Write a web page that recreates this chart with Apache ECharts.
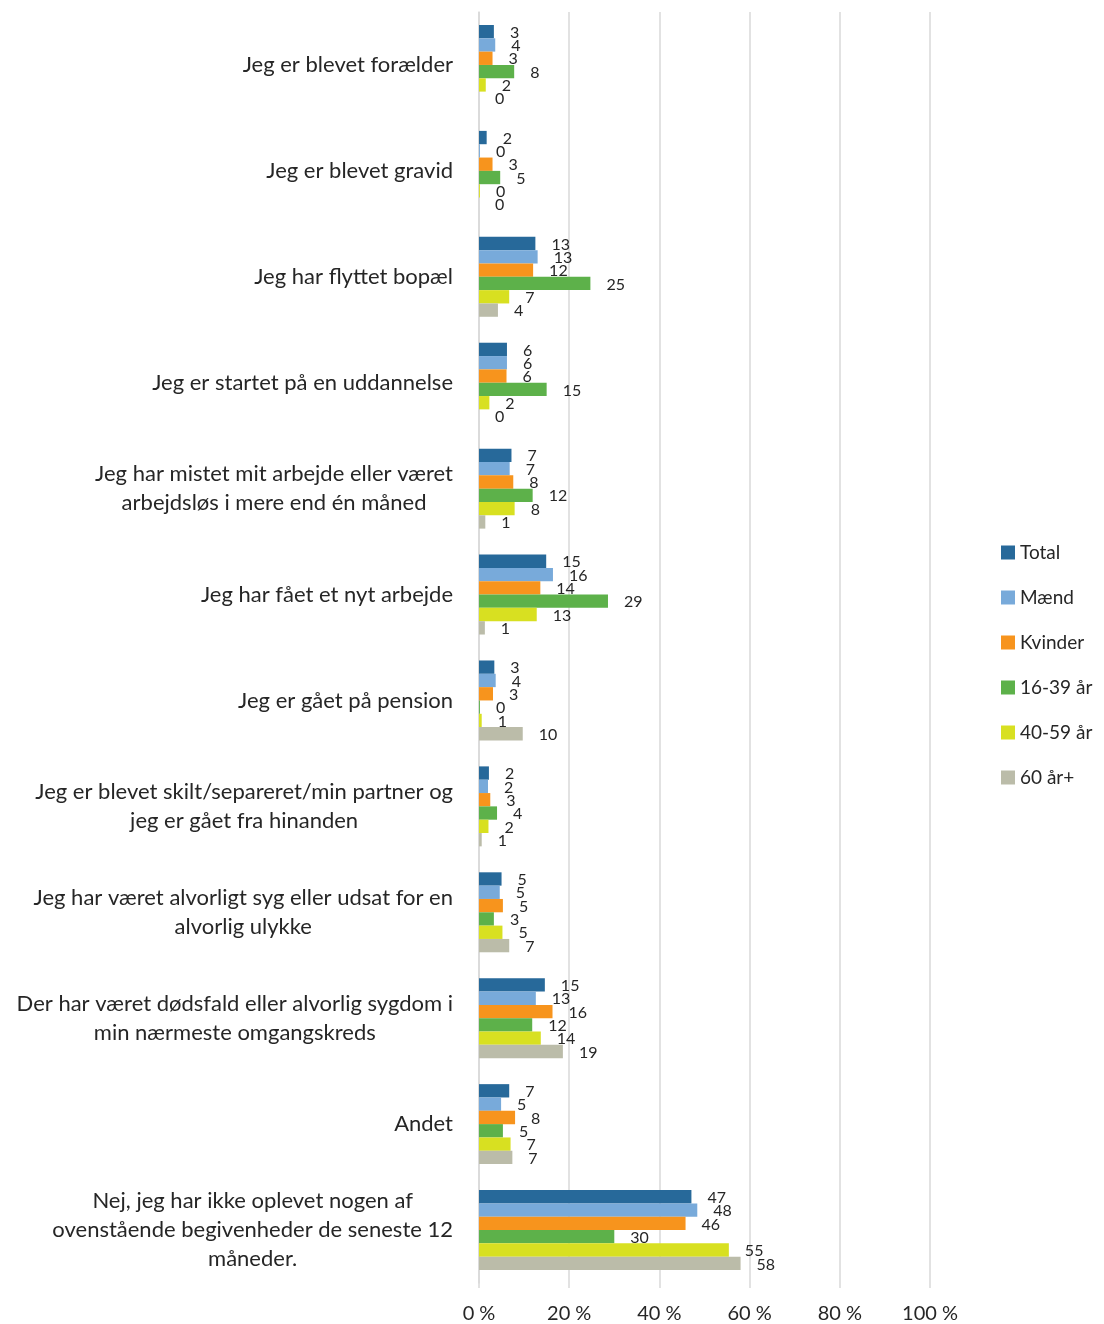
<!DOCTYPE html>
<html>
<head>
<meta charset="utf-8">
<script src="https://cdn.jsdelivr.net/npm/echarts@6/dist/echarts.min.js"></script>
<style>
html,body{margin:0;padding:0;background:#fff;}
#chart{width:1104px;height:1324px;}
</style>
</head>
<body>
<div id="chart"></div>
<script>
const categories = [
  "Jeg er blevet forælder",
  "Jeg er blevet gravid",
  "Jeg har flyttet bopæl",
  "Jeg er startet på en uddannelse",
  "Jeg har mistet mit arbejde eller været\narbejdsløs i mere end én måned",
  "Jeg har fået et nyt arbejde",
  "Jeg er gået på pension",
  "Jeg er blevet skilt/separeret/min partner og\njeg er gået fra hinanden",
  "Jeg har været alvorligt syg eller udsat for en\nalvorlig ulykke",
  "Der har været dødsfald eller alvorlig sygdom i\nmin nærmeste omgangskreds",
  "Andet",
  "Nej, jeg har ikke oplevet nogen af\novenstående begivenheder de seneste 12\nmåneder."
];
const seriesNames = ["Total", "Mænd", "Kvinder", "16-39 år", "40-59 år", "60 år+"];
const total   = [3.3, 1.7, 12.5, 6.2, 7.2, 14.9, 3.4, 2.2, 5.0, 14.6, 6.7, 47.1];
const maend   = [3.6, 0.2, 13.0, 6.2, 6.8, 16.4, 3.7, 2.0, 4.6, 12.6, 4.9, 48.4];
const kvinder = [3.0, 3.0, 12.0, 6.1, 7.6, 13.6, 3.1, 2.5, 5.3, 16.3, 8.0, 45.8];
const age1639 = [7.8, 4.7, 24.7, 15.0, 11.9, 28.6, 0.2, 4.0, 3.3, 11.8, 5.3, 30.0];
const age4059 = [1.5, 0.2, 6.7, 2.3, 7.9, 12.8, 0.6, 2.1, 5.2, 13.7, 7.0, 55.4];
const age60   = [0.0, 0.0, 4.2, 0.0, 1.4, 1.3, 9.7, 0.6, 6.7, 18.6, 7.4, 58.0];
const xTicks  = [0, 20, 40, 60, 80, 100];

const seriesValues = [total, maend, kvinder, age1639, age4059, age60];
const colors = ["#27699A", "#78AADA", "#F7941D", "#5DB14A", "#D8E021", "#BBBCA9"];

const FONT = "Lato";

const chart = echarts.init(document.getElementById('chart'), null, {renderer: 'canvas'});
const option = {
  backgroundColor: '#ffffff',
  textStyle: {fontFamily: FONT},
  animation: false,
  color: colors,
  grid: {left: 479, right: 174, top: 12, bottom: 40, containLabel: false},
  legend: {
    orient: 'vertical',
    left: 996,
    top: 538,
    itemWidth: 14,
    itemHeight: 14,
    itemGap: 26,
    icon: 'rect',
    textStyle: {fontFamily: FONT, fontSize: 19, color: '#262626'},
    data: seriesNames
  },
  xAxis: {
    type: 'value',
    min: 0,
    max: 100,
    interval: 20,
    axisLine: {show: false},
    axisTick: {show: true, length: 5, lineStyle: {color: '#d9d9d9', width: 1.5}},
    splitLine: {show: true, lineStyle: {color: '#d9d9d9', width: 1.5}},
    axisLabel: {
      fontFamily: FONT, fontSize: 20, color: '#262626', margin: 21,
      formatter: function (v) { return xTicks.indexOf(v) >= 0 ? v + ' %' : ''; }
    }
  },
  yAxis: {
    type: 'category',
    inverse: true,
    data: categories,
    axisLine: {show: true, lineStyle: {color: '#d9d9d9', width: 1.5}},
    axisTick: {show: false},
    axisLabel: {
      margin: 26,
      align: 'right',
      formatter: function (v) {
        return v.split('\n').map(function (l) { return '{c|' + l + '}'; }).join('\n');
      },
      rich: {
        c: {fontFamily: FONT, fontSize: 22, color: '#262626', align: 'center', lineHeight: 29}
      }
    }
  },
  series: seriesNames.map(function (name, i) {
    return {
      name: name,
      type: 'bar',
      data: seriesValues[i],
      barGap: '0%',
      barCategoryGap: '24.5%',
      itemStyle: {color: colors[i]},
      label: {
        show: true,
        position: 'right',
        distance: 16,
        fontFamily: FONT,
        fontSize: 16,
        color: '#262626',
        offset: [0, 1],
        formatter: function (p) { return Math.round(p.value); }
      }
    };
  })
};
chart.setOption(option);
</script>
</body>
</html>
